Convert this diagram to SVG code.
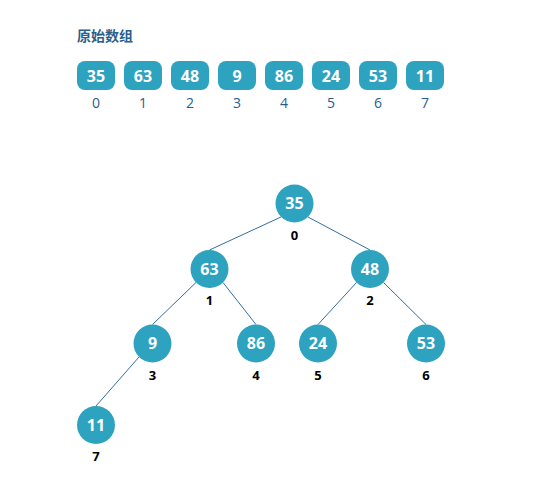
<svg xmlns="http://www.w3.org/2000/svg" width="533" height="478" viewBox="0 0 533 478">
<style>
.title{font-family:"Noto Sans CJK SC","Noto Sans",sans-serif;font-size:14px;font-weight:bold;fill:#2d5f8c}
.box{fill:#2ea3bf}
.val{font-family:"Open Sans","Noto Sans",sans-serif;font-size:16px;font-weight:bold;fill:#ffffff;text-anchor:middle}
.idx{font-family:"Open Sans","Noto Sans",sans-serif;font-size:14px;fill:#2a5d8f;text-anchor:middle}
.tidx{font-family:"Open Sans","Noto Sans",sans-serif;font-size:13px;font-weight:bold;fill:#000000;text-anchor:middle}
.edge{stroke:#336e9e;stroke-width:1;fill:none}
</style>
<text class="title" x="77" y="41">原始数组</text>
<g id="array">
<g id="a0"><rect class="box" x="77" y="61" width="38" height="29" rx="8"/><text class="val" x="96" y="82">35</text><text class="idx" x="96" y="108">0</text></g>
<g id="a1"><rect class="box" x="124" y="61" width="38" height="29" rx="8"/><text class="val" x="143" y="82">63</text><text class="idx" x="143" y="108">1</text></g>
<g id="a2"><rect class="box" x="171" y="61" width="38" height="29" rx="8"/><text class="val" x="190" y="82">48</text><text class="idx" x="190" y="108">2</text></g>
<g id="a3"><rect class="box" x="218" y="61" width="38" height="29" rx="8"/><text class="val" x="237" y="82">9</text><text class="idx" x="237" y="108">3</text></g>
<g id="a4"><rect class="box" x="265" y="61" width="38" height="29" rx="8"/><text class="val" x="284" y="82">86</text><text class="idx" x="284" y="108">4</text></g>
<g id="a5"><rect class="box" x="312" y="61" width="38" height="29" rx="8"/><text class="val" x="331" y="82">24</text><text class="idx" x="331" y="108">5</text></g>
<g id="a6"><rect class="box" x="359" y="61" width="38" height="29" rx="8"/><text class="val" x="378" y="82">53</text><text class="idx" x="378" y="108">6</text></g>
<g id="a7"><rect class="box" x="406" y="61" width="38" height="29" rx="8"/><text class="val" x="425" y="82">11</text><text class="idx" x="425" y="108">7</text></g>
</g>
<g id="connectors">
<line class="edge" x1="281" y1="217" x2="209.5" y2="250"/>
<line class="edge" x1="308" y1="217" x2="370" y2="250"/>
<line class="edge" x1="196" y1="282.5" x2="152.5" y2="324.5"/>
<line class="edge" x1="223" y1="282.5" x2="256" y2="324.5"/>
<line class="edge" x1="356.5" y1="282.5" x2="318" y2="324.5"/>
<line class="edge" x1="383.5" y1="282.5" x2="426" y2="324.5"/>
<line class="edge" x1="139" y1="357" x2="96" y2="406"/>
</g>
<g id="n0"><circle class="box" cx="294.5" cy="203.5" r="19"/><text class="val" x="294.5" y="209">35</text><text class="tidx" x="294.5" y="240">0</text></g>
<g id="n1"><circle class="box" cx="209.5" cy="269" r="19"/><text class="val" x="209.5" y="274.5">63</text><text class="tidx" x="209.5" y="305">1</text></g>
<g id="n2"><circle class="box" cx="370" cy="269" r="19"/><text class="val" x="370" y="274.5">48</text><text class="tidx" x="370" y="305">2</text></g>
<g id="n3"><circle class="box" cx="152.5" cy="343.5" r="19"/><text class="val" x="152.5" y="349">9</text><text class="tidx" x="152.5" y="380">3</text></g>
<g id="n4"><circle class="box" cx="256" cy="343.5" r="19"/><text class="val" x="256" y="349">86</text><text class="tidx" x="256" y="380">4</text></g>
<g id="n5"><circle class="box" cx="318" cy="343.5" r="19"/><text class="val" x="318" y="349">24</text><text class="tidx" x="318" y="380">5</text></g>
<g id="n6"><circle class="box" cx="426" cy="343.5" r="19"/><text class="val" x="426" y="349">53</text><text class="tidx" x="426" y="380">6</text></g>
<g id="n7"><circle class="box" cx="96" cy="425" r="19"/><text class="val" x="96" y="430.5">11</text><text class="tidx" x="96" y="461">7</text></g>
</svg>
